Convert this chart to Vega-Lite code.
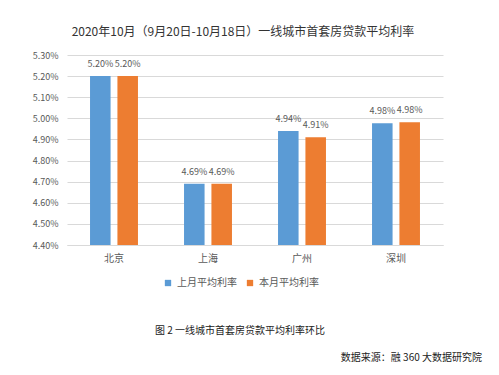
{
  "$schema": "https://vega.github.io/schema/vega-lite/v6.json",
  "padding": {"left": 32, "top": 26, "right": 5, "bottom": 5},
  "background": "white",
  "spacing": 0,
  "config": {
    "view": {"stroke": null},
    "font": "Noto Sans CJK SC",
    "title": {"font": "Noto Sans CJK SC", "fontWeight": "normal"}
  },
  "vconcat": [
    {
      "width": 376,
      "height": 190,
      "title": {
        "text": "2020年10月（9月20日-10月18日）一线城市首套房贷款平均利率",
        "fontSize": 12,
        "color": "#333333",
        "anchor": "middle",
        "frame": "group",
        "dx": -12,
        "offset": 12
      },
      "data": {
        "values": [
          {"city": "北京", "series": "上月平均利率", "rate": 0.052},
          {"city": "北京", "series": "本月平均利率", "rate": 0.052},
          {"city": "上海", "series": "上月平均利率", "rate": 0.0469},
          {"city": "上海", "series": "本月平均利率", "rate": 0.0469},
          {"city": "广州", "series": "上月平均利率", "rate": 0.0494},
          {"city": "广州", "series": "本月平均利率", "rate": 0.0491},
          {"city": "深圳", "series": "上月平均利率", "rate": 0.04977},
          {"city": "深圳", "series": "本月平均利率", "rate": 0.04982}
        ]
      },
      "encoding": {
        "x": {
          "field": "city",
          "type": "nominal",
          "sort": ["北京", "上海", "广州", "深圳"],
          "scale": {"paddingInner": 0.49, "paddingOuter": 0.245},
          "axis": {
            "title": null,
            "labelAngle": 0,
            "labelFontSize": 10,
            "labelColor": "#595959",
            "labelPadding": 8,
            "ticks": false,
            "domainColor": "#d9d9d9",
            "grid": false
          }
        },
        "xOffset": {
          "field": "series",
          "sort": ["上月平均利率", "本月平均利率"],
          "scale": {"paddingInner": 0.25}
        },
        "y": {
          "field": "rate",
          "type": "quantitative",
          "scale": {"domain": [0.044, 0.053], "zero": false, "nice": false},
          "axis": {
            "title": null,
            "values": [0.044, 0.045, 0.046, 0.047, 0.048, 0.049, 0.05, 0.051, 0.052, 0.053],
            "format": ".2%",
            "labelFontSize": 9,
            "labelColor": "#595959",
            "labelPadding": 9,
            "ticks": false,
            "domain": false,
            "gridColor": "#d9d9d9"
          }
        }
      },
      "layer": [
        {
          "mark": {"type": "bar", "clip": true},
          "encoding": {
            "color": {
              "field": "series",
              "type": "nominal",
              "scale": {"domain": ["上月平均利率", "本月平均利率"], "range": ["#5B9BD5", "#ED7D31"]},
              "legend": {
                "title": null,
                "orient": "none",
                "legendX": 96,
                "legendY": 223,
                "direction": "horizontal",
                "symbolType": "square",
                "symbolSize": 40,
                "symbolStrokeWidth": 0,
                "labelFontSize": 10,
                "labelColor": "#595959",
                "labelOffset": 4,
                "columnPadding": 8
              }
            }
          }
        },
        {
          "mark": {"type": "text", "dy": -12, "fontSize": 9, "color": "#595959"},
          "encoding": {
            "text": {"field": "rate", "type": "quantitative", "format": ".2%"}
          }
        }
      ]
    },
    {
      "width": 346,
      "height": 57,
      "data": {"values": []},
      "mark": "point",
      "encoding": {},
      "title": {
        "text": "图 2 一线城市首套房贷款平均利率环比",
        "orient": "bottom",
        "anchor": "middle",
        "fontSize": 10,
        "color": "#222222",
        "offset": 6
      }
    },
    {
      "width": 415,
      "height": 12,
      "data": {"values": []},
      "mark": "point",
      "encoding": {},
      "title": {
        "text": "数据来源：融 360 大数据研究院",
        "orient": "bottom",
        "anchor": "end",
        "fontSize": 10,
        "color": "#222222",
        "offset": 5
      }
    }
  ]
}
